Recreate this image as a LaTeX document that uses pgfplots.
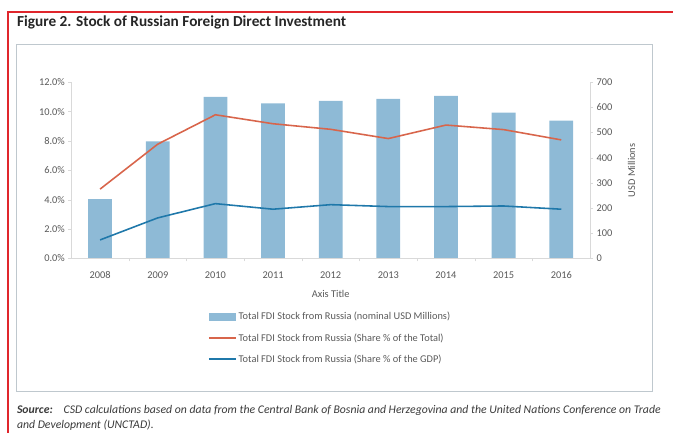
\documentclass[border=0pt]{standalone}
\usepackage{fontspec}
\setmainfont{Carlito}
\usepackage{pgfplots}
\pgfplotsset{compat=1.18}
\definecolor{barblue}{HTML}{8EBAD6}
\definecolor{linered}{HTML}{D8654B}
\definecolor{lineblue}{HTML}{1F78AA}
\definecolor{ticktext}{HTML}{595959}
\definecolor{axisgray}{HTML}{D9D9D9}
\definecolor{boxgray}{HTML}{BFC8CE}
\definecolor{frame}{HTML}{E0262C}
\definecolor{titlecol}{HTML}{262626}
\definecolor{srccol}{HTML}{3A3A3A}
\pgfplotsset{
  common/.style={
    at={(72bp,171bp)}, anchor=south west, scale only axis,
    width=524bp, height=178bp,
    xmin=-0.5, xmax=8.5,
    /pgf/number format/assume math mode=true,
    tick align=outside,
    major tick length=3bp,
    minor tick length=3bp,
    tick label style={text=ticktext, font=\fontsize{10.5}{12}\selectfont},
    every axis label/.append style={text=ticktext, font=\fontsize{10.5}{12}\selectfont},
  }
}
\begin{document}
\begin{tikzpicture}
\path (0bp,0bp) rectangle (674bp,432bp);
\draw[frame, line width=1.5bp] (8bp,-5bp) -- (8bp,420bp) -- (680bp,420bp);
\draw[boxgray, line width=0.8bp] (17bp,37bp) rectangle (659bp,387bp);
\node[anchor=west, inner sep=0pt, text=titlecol, font=\bfseries\fontsize{15.5}{18}\selectfont] at (17bp,409bp) {Figure 2. Stock of Russian Foreign Direct Investment};

\begin{axis}[common,
  ymin=0, ymax=700,
  axis x line=none, axis y line*=right,
  ytick={0,100,...,700},
  y axis line style={draw=axisgray},
  ytick style={draw=axisgray},
  ylabel={USD Millions},
  ylabel style={at={(axis description cs:1.08,0.5)}, anchor=center, rotate=0},
  ybar, bar width=24bp,
]
\addplot[fill=barblue, draw=none] coordinates {
(0,235) (1,465) (2,642) (3,616) (4,626) (5,634) (6,646) (7,579) (8,547)};
\end{axis}

\begin{axis}[common,
  ymin=0, ymax=12,
  axis y line*=left, axis x line*=bottom,
  axis line style={draw=axisgray},
  ytick={0,2,...,12},
  yticklabel={\pgfmathprintnumber[fixed,fixed zerofill,precision=1]{\tick}\%},
  ytick style={draw=axisgray},
  xtick={0,...,8},
  xticklabels={2008,2009,2010,2011,2012,2013,2014,2015,2016},
  xticklabel style={yshift=-7bp},
  major x tick style={draw=none},
  minor xtick={0.5,1.5,...,7.5},
  minor x tick style={draw=axisgray},
  xlabel={Axis Title},
  xlabel style={at={(axis description cs:0.5,-0.2)}, anchor=center},
  legend cell align=left,
  legend image code/.code={\draw[#1, line width=2bp] (0bp,0bp) -- (27bp,0bp);},
  legend style={at={(axis description cs:0.263,-0.292)}, anchor=north west,
    draw=none, fill=none, inner sep=0pt, text=ticktext,
    font=\fontsize{10.5}{12}\selectfont, row sep=8.5bp,
    /tikz/every even column/.append style={column sep=2bp}},
]
\addlegendimage{legend image code/.code={\fill[barblue] (0bp,-3.5bp) rectangle (27bp,3.5bp);}}
\addlegendentry{Total FDI Stock from Russia (nominal USD Millions)}
\addplot[linered, line width=1.6pt, no marks] coordinates {
(0,4.72) (1,7.78) (2,9.78) (3,9.17) (4,8.79) (5,8.16) (6,9.08) (7,8.77) (8,8.07)};
\addlegendentry{Total FDI Stock from Russia (Share \% of the Total)}
\addplot[lineblue, line width=1.6pt, no marks] coordinates {
(0,1.26) (1,2.76) (2,3.73) (3,3.35) (4,3.66) (5,3.53) (6,3.53) (7,3.57) (8,3.35)};
\addlegendentry{Total FDI Stock from Russia (Share \% of the GDP)}
\end{axis}

\node[anchor=base west, inner sep=0pt, text=srccol, font=\itshape\fontsize{11.9}{14}\selectfont] at (17bp,14bp) {\textbf{Source:}\hspace{11bp}CSD calculations based on data from the Central Bank of Bosnia and Herzegovina and the United Nations Conference on Trade};
\node[anchor=base west, inner sep=0pt, text=srccol, font=\itshape\fontsize{11.9}{14}\selectfont] at (17bp,-1bp) {and Development (UNCTAD).};
\end{tikzpicture}
\end{document}
